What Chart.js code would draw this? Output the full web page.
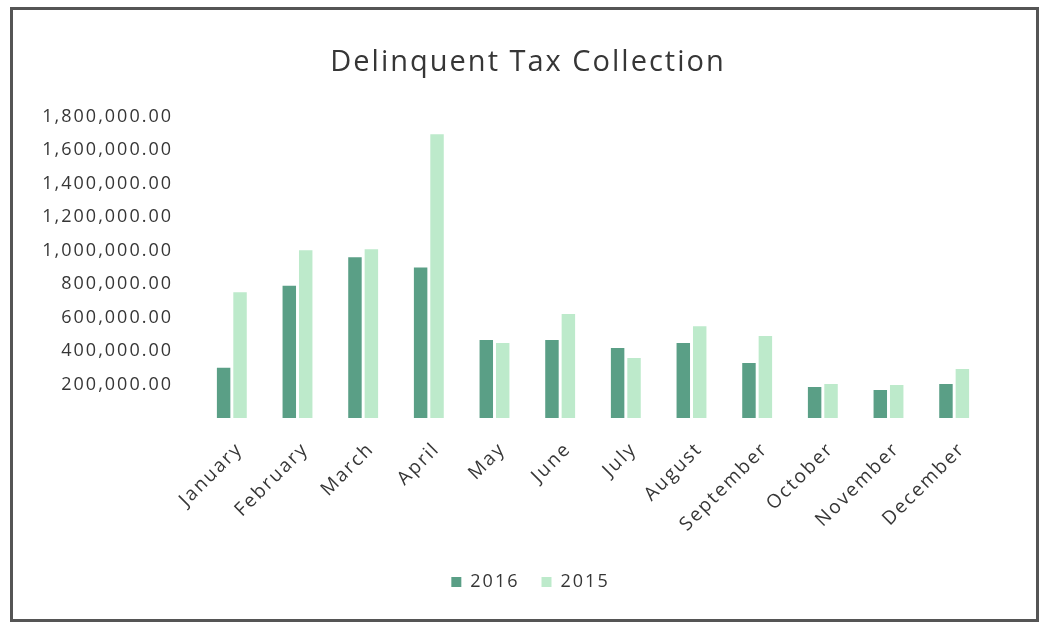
<!DOCTYPE html>
<html>
<head>
<meta charset="utf-8">
<script src="https://cdn.jsdelivr.net/npm/chart.js@4.4.1/dist/chart.umd.min.js"></script>
<style>
  html, body { margin: 0; padding: 0; background: #ffffff; }
  #wrap { position: relative; width: 1040px; height: 623px; }
  #frame {
    position: absolute; left: 10px; top: 7px; width: 1029px; height: 615px;
    box-sizing: border-box; border: 3px solid #555555;
    pointer-events: none;
  }
  canvas { position: absolute; left: 0; top: 0; }
</style>
</head>
<body>
<div id="wrap">
  <canvas id="taxChart" width="1040" height="623"></canvas>
  <div id="frame"></div>
</div>
<script>
// monthly delinquent tax collected, by year
const months = ['January', 'February', 'March', 'April', 'May', 'June',
                'July', 'August', 'September', 'October', 'November', 'December'];
const collected2016 = [300000, 790000, 960000, 900000, 466000, 466000,
                       418000, 448000, 328000, 185000, 167000, 203000];
const collected2015 = [752000, 1003000, 1009000, 1696000, 448000, 621000,
                       358000, 549000, 490000, 203000, 197000, 293000];
const yTicks = [200000, 400000, 600000, 800000, 1000000, 1200000, 1400000, 1600000, 1800000];

const textColor = '#363636';
const fontFamily = "'Open Sans', 'Liberation Sans', sans-serif";

function money(v) {
  return v.toLocaleString('en-US', { minimumFractionDigits: 2, maximumFractionDigits: 2 });
}

// wider text spacing, and title/legend centred on the whole frame
const tweaks = {
  id: 'tweaks',
  beforeInit(chart) { chart.ctx.letterSpacing = '2px'; },
  afterLayout(chart) {
    if (chart.titleBlock) chart.titleBlock.left += 39;
    if (chart.legend) chart.legend.left += 28;
  },
  beforeDraw(chart) { chart.ctx.letterSpacing = '2px'; }
};

const ctx = document.getElementById('taxChart');
new Chart(ctx, {
  type: 'bar',
  plugins: [tweaks],
  data: {
    labels: months,
    datasets: [
      {
        label: '2016',
        data: collected2016,
        backgroundColor: '#5a9f86',
        categoryPercentage: 0.5,
        barPercentage: 0.82
      },
      {
        label: '2015',
        data: collected2015,
        backgroundColor: '#bdeacb',
        categoryPercentage: 0.5,
        barPercentage: 0.82
      }
    ]
  },
  options: {
    responsive: false,
    animation: false,
    layout: { padding: { left: 30, right: 53, top: 0, bottom: 22 } },
    plugins: {
      title: {
        display: true,
        text: 'Delinquent Tax Collection',
        color: textColor,
        font: { family: fontFamily, size: 29, weight: 'normal' },
        padding: { top: 45, bottom: 37 }
      },
      legend: {
        position: 'bottom',
        labels: {
          color: textColor,
          font: { family: fontFamily, size: 18 },
          boxWidth: 10,
          boxHeight: 10,
          padding: 22
        }
      },
      tooltip: { enabled: false }
    },
    scales: {
      x: {
        grid: { display: false, drawTicks: false },
        border: { display: false },
        ticks: {
          color: textColor,
          font: { family: fontFamily, size: 19 },
          maxRotation: 45,
          minRotation: 45,
          padding: 20,
          labelOffset: 8
        },
        afterFit(scale) { scale.height = 133; }
      },
      y: {
        min: 0,
        max: 1800000,
        grid: { display: false, drawTicks: false },
        border: { display: false },
        afterBuildTicks(scale) {
          scale.ticks = [0].concat(yTicks).map(v => ({ value: v }));
        },
        ticks: {
          color: textColor,
          font: { family: fontFamily, size: 18 },
          padding: 26,
          callback: v => (v === 0 ? '' : money(v))
        },
        afterFit(scale) { scale.width = 169; }
      }
    }
  }
});
</script>
</body>
</html>
